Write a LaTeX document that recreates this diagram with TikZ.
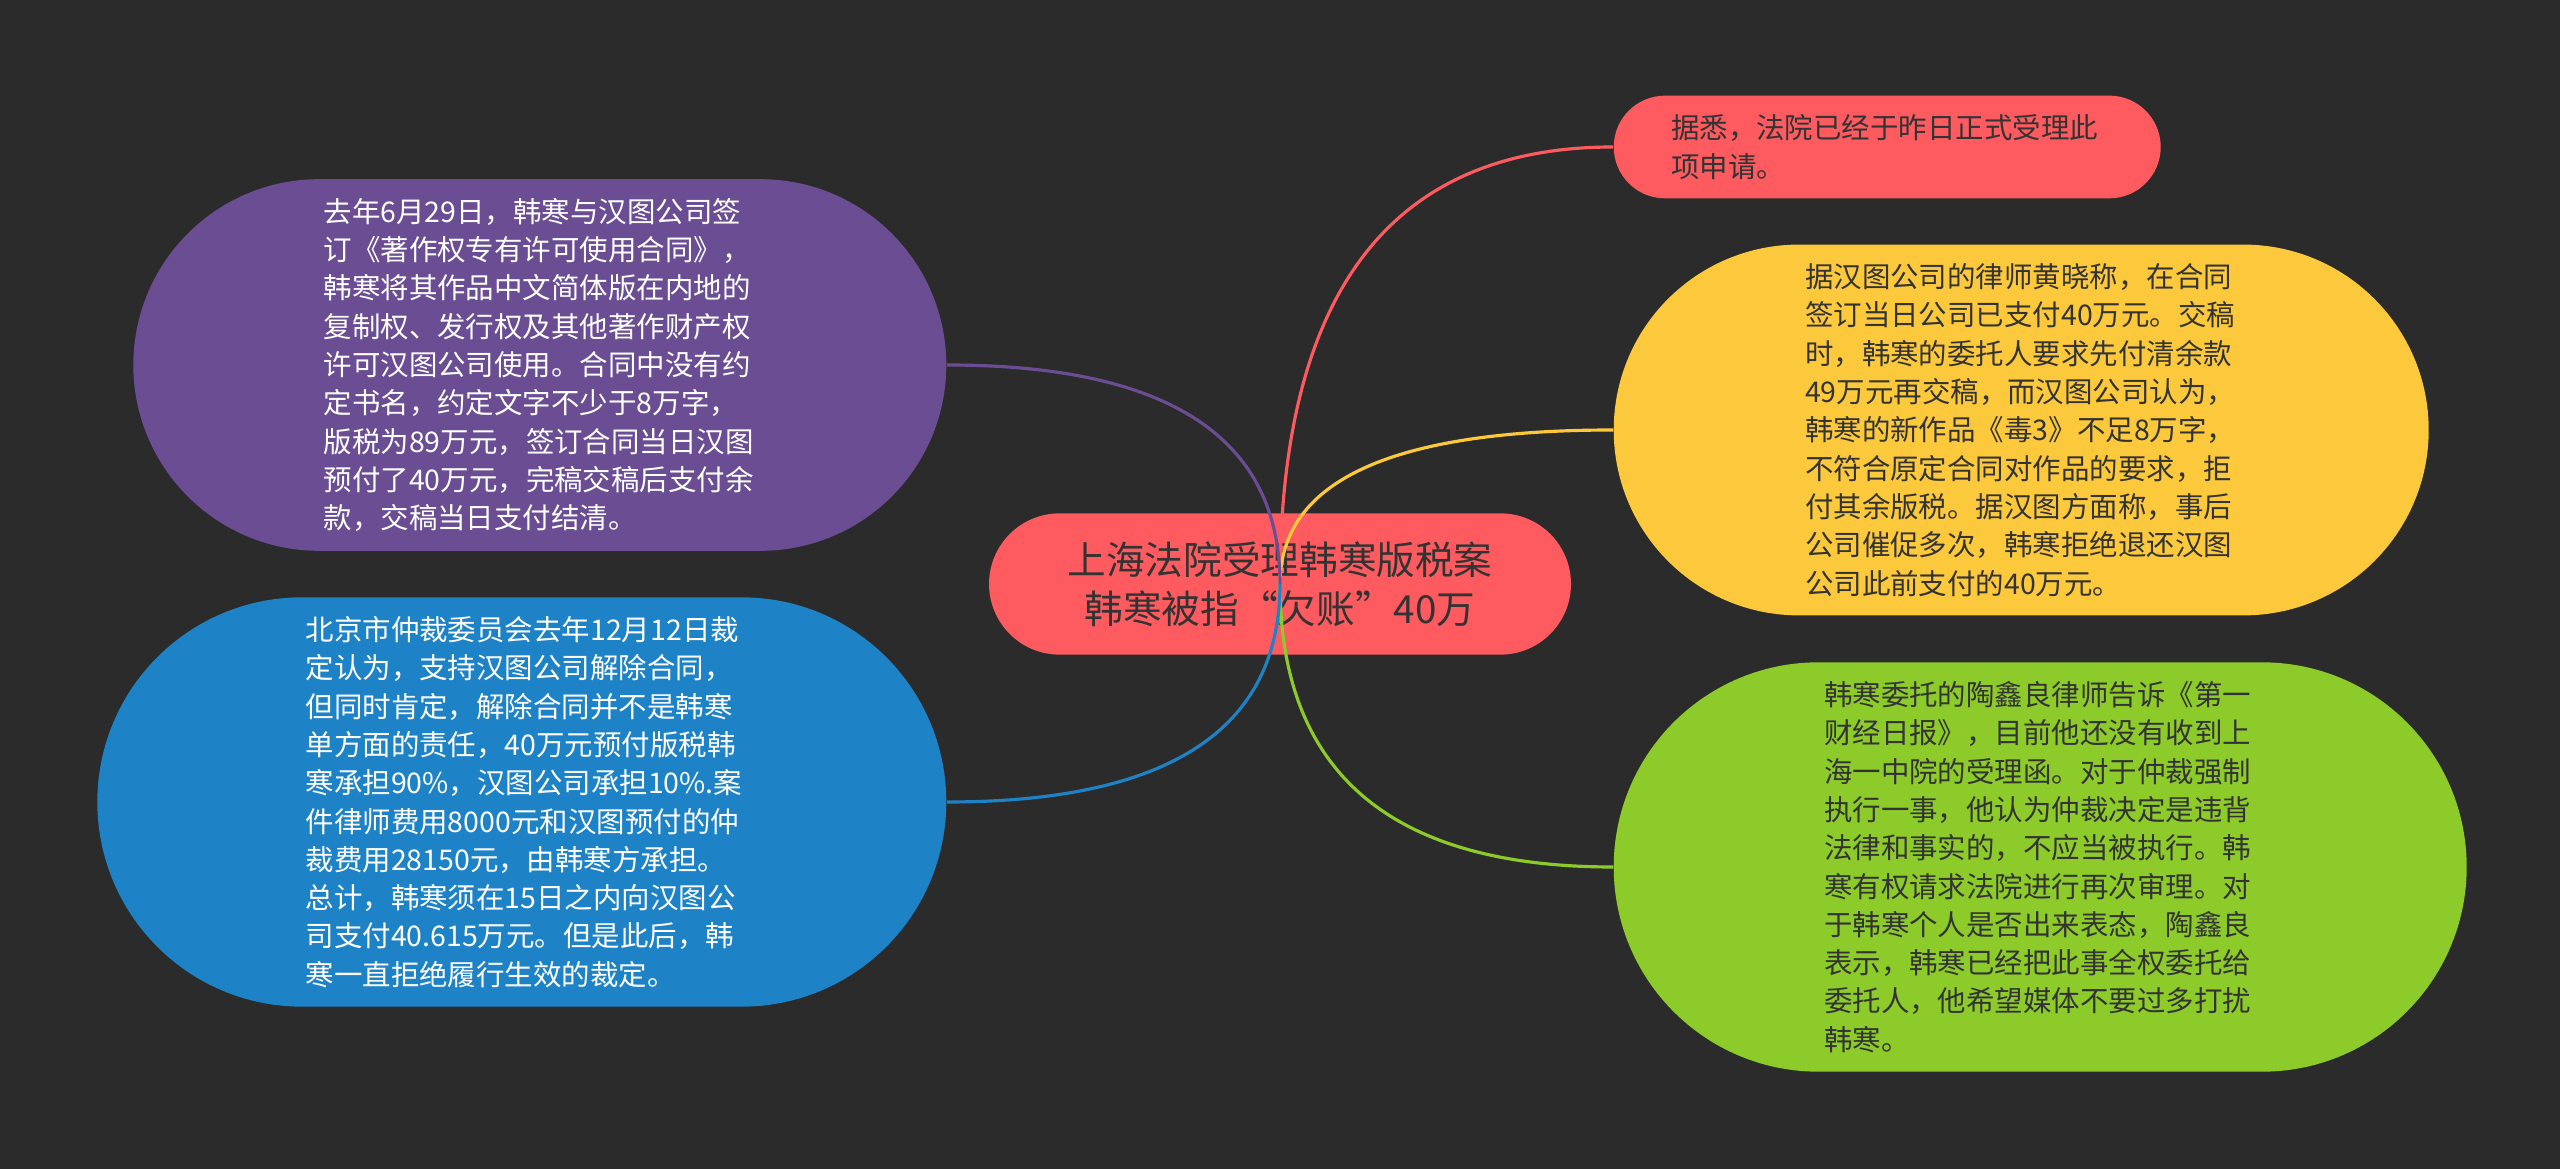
\documentclass[tikz,border=0pt]{standalone}
\usepackage{fontspec}
\setmainfont{Noto Sans CJK SC}
\usepackage{tikz}
\usetikzlibrary{shapes.misc, calc}

\definecolor{bgdark}{HTML}{2B2B2B}
\definecolor{hubred}{HTML}{FD5B60}
\definecolor{leafpurple}{HTML}{6A4D93}
\definecolor{leafblue}{HTML}{1E83C6}
\definecolor{leafyellow}{HTML}{FDC93C}
\definecolor{leafgreen}{HTML}{8CCB2A}
\definecolor{inkdark}{HTML}{333333}

\begin{document}
\begin{tikzpicture}[
    hub/.style={rounded rectangle, fill=hubred, text=inkdark, align=center,
                inner xsep=0.09cm, inner ysep=0.28cm, minimum width=6.0cm,
                font=\fontsize{11pt}{14pt}\selectfont},
    leaf/.style={rounded rectangle, fill=#1, text=inkdark, text width=123pt,
                 align=left, inner xsep=0.08cm, inner ysep=0.19cm,
                 font=\fontsize{8.1pt}{10.9pt}\selectfont},
    link/.style={line width=0.9pt}
]
\useasboundingbox (0,0) rectangle (25.6,11.69);
\fill[bgdark] (0,0) rectangle (25.6,11.69);

\node[hub] (ctr) at (12.80, 5.85) {上海法院受理韩寒版税案\\韩寒被指“欠账”40万};

% right side
\node[leaf=hubred, anchor=west, minimum width=5.63cm] (r1) at (16.13, 10.22)
    {据悉，法院已经于昨日正式受理此\\项申请。};
\node[leaf=leafyellow, anchor=west, minimum width=8.31cm] (r2) at (16.13, 7.39)
    {据汉图公司的律师黄晓称，在合同\\签订当日公司已支付40万元。交稿\\时，韩寒的委托人要求先付清余款\\49万元再交稿，而汉图公司认为，\\韩寒的新作品《毒3》不足8万字，\\不符合原定合同对作品的要求，拒\\付其余版税。据汉图方面称，事后\\公司催促多次，韩寒拒绝退还汉图\\公司此前支付的40万元。};
\node[leaf=leafgreen, anchor=west, minimum width=8.69cm] (r3) at (16.13, 3.02)
    {韩寒委托的陶鑫良律师告诉《第一\\财经日报》，目前他还没有收到上\\海一中院的受理函。对于仲裁强制\\执行一事，他认为仲裁决定是违背\\法律和事实的，不应当被执行。韩\\寒有权请求法院进行再次审理。对\\于韩寒个人是否出来表态，陶鑫良\\表示，韩寒已经把此事全权委托给\\委托人，他希望媒体不要过多打扰\\韩寒。};

% left side
\node[leaf=leafpurple, text=white, anchor=east, minimum width=8.29cm] (l1) at (9.47, 8.04)
    {去年6月29日，韩寒与汉图公司签\\订《著作权专有许可使用合同》，\\韩寒将其作品中文简体版在内地的\\复制权、发行权及其他著作财产权\\许可汉图公司使用。合同中没有约\\定书名，约定文字不少于8万字，\\版税为89万元，签订合同当日汉图\\预付了40万元，完稿交稿后支付余\\款，交稿当日支付结清。};
\node[leaf=leafblue, text=white, anchor=east, minimum width=8.65cm] (l2) at (9.47, 3.67)
    {北京市仲裁委员会去年12月12日裁\\定认为，支持汉图公司解除合同，\\但同时肯定，解除合同并不是韩寒\\单方面的责任，40万元预付版税韩\\寒承担90\%，汉图公司承担10\%.案\\件律师费用8000元和汉图预付的仲\\裁费用28150元，由韩寒方承担。\\总计，韩寒须在15日之内向汉图公\\司支付40.615万元。但是此后，韩\\寒一直拒绝履行生效的裁定。};

% branches
\draw[link, hubred] (ctr.center) .. controls ($(ctr.center)!.667!(ctr.center |- r1.west)$) and ($(r1.west)!.667!(ctr.center |- r1.west)$) .. (r1.west);
\draw[link, leafyellow] (ctr.center) .. controls ($(ctr.center)!.667!(ctr.center |- r2.west)$) and ($(r2.west)!.667!(ctr.center |- r2.west)$) .. (r2.west);
\draw[link, leafgreen] (ctr.center) .. controls ($(ctr.center)!.667!(ctr.center |- r3.west)$) and ($(r3.west)!.667!(ctr.center |- r3.west)$) .. (r3.west);
\draw[link, leafpurple] (ctr.center) .. controls ($(ctr.center)!.667!(ctr.center |- l1.east)$) and ($(l1.east)!.667!(ctr.center |- l1.east)$) .. (l1.east);
\draw[link, leafblue] (ctr.center) .. controls ($(ctr.center)!.667!(ctr.center |- l2.east)$) and ($(l2.east)!.667!(ctr.center |- l2.east)$) .. (l2.east);
\end{tikzpicture}
\end{document}
